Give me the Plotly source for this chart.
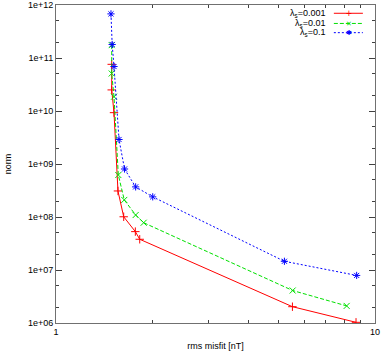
import plotly.graph_objects as go

# rms misfit [nT] vs norm for three regularisation values
misfit_001 = [1.495, 1.495, 1.52, 1.564, 1.63, 1.773, 1.83, 5.51, 8.72]
norm_001 = [7.6e10, 2.5e10, 9.3e9, 3.1e8, 1.01e8, 5.3e7, 3.8e7, 2.03e6, 1.03e6]

misfit_01 = [1.495, 1.495, 1.52, 1.568, 1.637, 1.777, 1.883, 5.52, 8.15]
norm_01 = [1.75e11, 5.1e10, 1.86e10, 6.2e8, 2.1e8, 1.09e8, 7.8e7, 4.1e6, 2.1e6]

misfit_1 = [1.487, 1.50, 1.52, 1.576, 1.64, 1.777, 2.01, 5.20, 8.76]
norm_1 = [6.8e11, 1.8e11, 6.9e10, 2.9e9, 8.05e8, 3.7e8, 2.4e8, 1.46e7, 7.9e6]

labels = ["λ<sub>s</sub>=0.001", "λ<sub>s</sub>=0.01", "λ<sub>s</sub>=0.1"]
colors = ["#ff0000", "#00e000", "#0000ff"]
dashes = ["solid", "4px,2px", "2px,2px"]
symbols = ["cross-thin-open", "x-thin-open", "asterisk-open"]
glyphs = ["+", "✕", "✱"]
glyph_sizes = [10, 7, 7]

y_major = [10 ** k for k in range(6, 13)]
y_text = ["1e+%02d" % k for k in range(6, 13)]
y_minor = [m * 10 ** k for k in range(6, 12) for m in (2, 5)]
x_minor = [m for m in range(2, 10)]

series = [(misfit_001, norm_001), (misfit_01, norm_01), (misfit_1, norm_1)]

fig = go.Figure()
for (xs, ys), col, dash, sym in zip(series, colors, dashes, symbols):
    fig.add_trace(go.Scatter(x=xs, y=ys, mode="lines+markers",
                             line=dict(color=col, width=1, dash=dash),
                             marker=dict(symbol=sym, size=6, color=col,
                                         line=dict(color=col, width=1)),
                             showlegend=False))

# gnuplot style key: text on the left, sample on the right
rows = [0.974, 0.942, 0.913]
for lab, col, dash, gl, gs, ry in zip(labels, colors, dashes, glyphs, glyph_sizes, rows):
    fig.add_annotation(x=0.85, y=ry, xref="paper", yref="paper", text=lab,
                       showarrow=False, xanchor="right", yanchor="middle",
                       font=dict(size=9, color="black"))
    fig.add_shape(type="line", xref="paper", yref="paper", x0=0.871, x1=0.962,
                  y0=ry, y1=ry, line=dict(color=col, width=1, dash=dash))
    fig.add_annotation(x=0.918, y=ry, xref="paper", yref="paper", text=gl,
                       showarrow=False, xanchor="center", yanchor="middle",
                       font=dict(size=gs, color=col))

axis_common = dict(showgrid=False, zeroline=False, showline=True, linecolor="#707070",
                   linewidth=1, mirror="ticks", ticks="inside", ticklen=6,
                   tickcolor="#404040", tickfont=dict(size=9, color="black"),
                   automargin=False)

fig.update_xaxes(type="log", range=[0, 1], tickvals=[1, 10], ticktext=["1", "10"],
                 minor=dict(tickvals=x_minor, ticks="inside", ticklen=3, tickcolor="#404040"),
                 title=dict(text="rms misfit [nT]", font=dict(size=9), standoff=6),
                 **axis_common)
fig.update_yaxes(type="log", range=[6, 12], tickvals=y_major, ticktext=y_text,
                 minor=dict(tickvals=y_minor, ticks="inside", ticklen=3, tickcolor="#404040"),
                 title=dict(text="norm", font=dict(size=9), standoff=14),
                 **axis_common)

fig.update_layout(width=382, height=354, plot_bgcolor="white", paper_bgcolor="white",
                  margin=dict(l=56, r=7, t=5, b=31),
                  font=dict(family="Liberation Sans, Arial, sans-serif", size=9, color="black"))

fig.write_html("out.html", config={"displayModeBar": False},
               post_script="document.body.style.margin='0';")
